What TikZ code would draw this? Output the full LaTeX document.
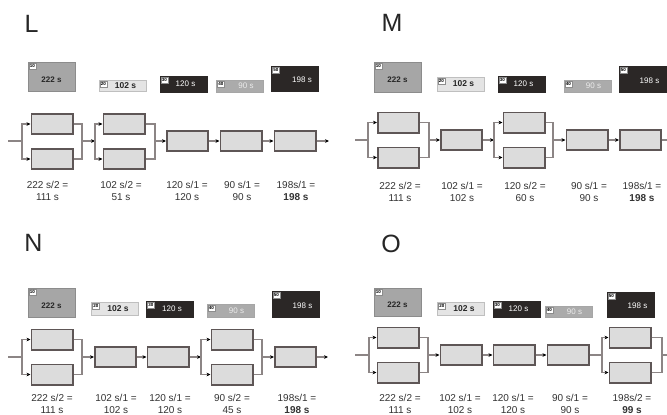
\documentclass[tikz,border=0pt]{standalone}
\usepackage{fontspec}
\setmainfont{Liberation Sans}
\usetikzlibrary{arrows.meta,positioning}
\definecolor{boxfill}{HTML}{DCDCDC}
\definecolor{boxedge}{HTML}{5E5656}
\definecolor{linecol}{HTML}{8C8585}
\definecolor{ink}{HTML}{333333}
\definecolor{midgray}{HTML}{A6A6A6}
\definecolor{pale}{HTML}{E4E4E4}
\definecolor{darkbox}{HTML}{2B2726}
\definecolor{greybox}{HTML}{ABABAB}

\begin{document}
\begin{tikzpicture}[x=1pt,y=-1pt]
  \tikzstyle{bx}=[rectangle,draw=boxedge,fill=boxfill,line width=1.6pt,minimum width=41.4,minimum height=20.4,inner sep=0pt]
  \tikzstyle{ln}=[draw=linecol,line width=1.2pt]
  \tikzstyle{ar}=[ln,-{Stealth[length=4pt,width=3.6pt,color=black]}]
  \tikzstyle{lb}=[align=center,text=ink,font=\fontsize{10}{12}\selectfont,inner sep=0pt]
  \tikzstyle{big}=[font=\fontsize{25}{25}\selectfont,text=black!85,inner sep=0pt]
  \tikzstyle{tk}=[rectangle,minimum width=47,inner sep=0pt,line width=0.6pt]
  \tikzstyle{t1}=[fill=midgray,draw=black!45]
  \tikzstyle{t2}=[fill=pale,draw=black!25]
  \tikzstyle{t3}=[fill=darkbox,draw=darkbox]
  \tikzstyle{t4}=[fill=greybox,draw=black!35]
  \tikzstyle{t5}=[fill=darkbox,draw=darkbox]
  \tikzstyle{tg}=[rectangle,fill=white,draw=black!45,line width=0.3pt,inner sep=0.6pt,minimum width=7,minimum height=6,font=\fontsize{4.5}{4.5}\selectfont\bfseries,anchor=north west]
  \tikzstyle{v1}=[font=\fontsize{8}{8}\selectfont\bfseries,text=black!85,yshift=-3pt]
  \tikzstyle{v2}=[font=\fontsize{8.5}{8.5}\selectfont\bfseries,text=black!85,xshift=3pt]
  \tikzstyle{v3}=[font=\fontsize{8}{8}\selectfont,text=white,xshift=2pt]
  \tikzstyle{v4}=[font=\fontsize{8}{8}\selectfont,text=white!85!gray,xshift=6pt]
  \tikzstyle{v5}=[font=\fontsize{8}{8}\selectfont,text=white,xshift=7pt,yshift=-1.5pt]

  \useasboundingbox (0,0) rectangle (667,415);
  \clip (0,0) rectangle (667,415);
  \fill[white] (0,0) rectangle (667,415);

  % panel letters
  \node[big] (capL) at (31.5,23.5) {L};
  \node[big] (capM) at (392,22.5) {M};
  \node[big] (capN) at (33.5,242.5) {N};
  \node[big] (capO) at (391,243.5) {O};

  % station times
  \foreach \n/\x/\y/\h/\k/\v in {
      l/51.5/76.5/29/1/222 s, l/122.5/85.5/11/2/102 s, l/183.5/84/16/3/120 s, l/240/86/12/4/90 s, l/295/78.5/25/5/198 s,
      m/397.5/77/30/1/222 s, m/460.5/84/14/2/102 s, m/521.5/84/16/3/120 s, m/587.5/86/12/4/90 s, m/642.5/79/26/5/198 s,
      n/51.5/302.5/29/1/222 s, n/115/308.5/13/2/102 s, n/170/309/16/3/120 s, n/230.5/310.5/13/4/90 s, n/295.5/304/26/5/198 s,
      o/397.5/302/28/1/222 s, o/461/308.5/13/2/102 s, o/516.5/309/16/3/120 s, o/568.5/311.5/11/4/90 s, o/630.5/304.5/25/5/198 s}
  {
    \node[tk,t\k,minimum height=\h] (\n t\k) at (\x,\y) {};
    \node[tg] (\n t\k-tag) at ([shift={(1pt,-1.2pt)}]\n t\k.north west) {\k0};
    \node[v\k] (\n t\k-val) at (\n t\k.center) {\v};
  }

  % L
  \coordinate (lin) at (8,141);
  \coordinate (lb1) at (22,141);
  \node[bx] (l1a) at (52,124) {};
  \node[bx] (l1b) at (52,159) {};
  \coordinate (lm1) at (82,141);
  \coordinate (lb2) at (95,141);
  \node[bx] (l2a) at (124,124) {};
  \node[bx] (l2b) at (124,159) {};
  \coordinate (lm2) at (155,141);
  \node[bx] (l3) at (187.5,141) {};
  \node[bx] (l4) at (241,141) {};
  \node[bx] (l5) at (295,141) {};
  \coordinate (lout) at (329,141);
  \draw[ln] (lin) -- (lb1);
  \draw[ar] (lb1) |- (l1a);
  \draw[ar] (lb1) |- (l1b);
  \draw[ln] (l1a) -| (lm1) |- (l1b);
  \draw[ar] (lm1) -- (lb2);
  \draw[ar] (lb2) |- (l2a);
  \draw[ar] (lb2) |- (l2b);
  \draw[ln] (l2a) -| (lm2) |- (l2b);
  \draw[ar] (lm2) -- (l3);
  \draw[ar] (l3) -- (l4);
  \draw[ar] (l4) -- (l5);
  \draw[ar] (l5) -- (lout);
  \node[lb] (lq1) at (47.5,191) {222 s/2 =\\111 s};
  \node[lb] (lq2) at (121,191) {102 s/2 =\\51 s};
  \node[lb] (lq3) at (187,191) {120 s/1 =\\120 s};
  \node[lb] (lq4) at (242,191) {90 s/1 =\\90 s};
  \node[lb] (lq5) at (296,191) {198s/1 =\\\textbf{198 s}};

  % M
  \coordinate (min) at (355,140);
  \coordinate (mb1) at (368,140);
  \node[bx] (m1a) at (398.5,122.5) {};
  \node[bx] (m1b) at (398.5,157.5) {};
  \coordinate (mm1) at (429,140);
  \node[bx] (m2) at (461.5,140) {};
  \coordinate (mb3) at (494,140);
  \node[bx] (m3a) at (524,122.5) {};
  \node[bx] (m3b) at (524,157.5) {};
  \coordinate (mm3) at (553,140);
  \node[bx] (m4) at (587,140) {};
  \node[bx] (m5) at (640.5,140) {};
  \coordinate (mout) at (676,140);
  \draw[ln] (min) -- (mb1);
  \draw[ar] (mb1) |- (m1a);
  \draw[ar] (mb1) |- (m1b);
  \draw[ln] (m1a) -| (mm1) |- (m1b);
  \draw[ar] (mm1) -- (m2);
  \draw[ar] (m2) -- (mb3);
  \draw[ar] (mb3) |- (m3a);
  \draw[ar] (mb3) |- (m3b);
  \draw[ln] (m3a) -| (mm3) |- (m3b);
  \draw[ar] (mm3) -- (m4);
  \draw[ar] (m4) -- (m5);
  \draw[ar] (m5) -- (mout);
  \node[lb] (mq1) at (400,192) {222 s/2 =\\111 s};
  \node[lb] (mq2) at (462,192) {102 s/1 =\\102 s};
  \node[lb] (mq3) at (525,192) {120 s/2 =\\60 s};
  \node[lb] (mq4) at (589,192) {90 s/1 =\\90 s};
  \node[lb] (mq5) at (642,192) {198s/1 =\\\textbf{198 s}};

  % N
  \coordinate (nin) at (8,357);
  \coordinate (nb1) at (22,357);
  \node[bx] (n1a) at (52,339.5) {};
  \node[bx] (n1b) at (52,374.5) {};
  \coordinate (nm1) at (82,357);
  \node[bx] (n2) at (115.5,357) {};
  \node[bx] (n3) at (168,357) {};
  \coordinate (nb4) at (201,357);
  \node[bx] (n4a) at (232,339.5) {};
  \node[bx] (n4b) at (232,374.5) {};
  \coordinate (nm4) at (262,357);
  \node[bx] (n5) at (295.5,357) {};
  \coordinate (nout) at (328,357);
  \draw[ln] (nin) -- (nb1);
  \draw[ar] (nb1) |- (n1a);
  \draw[ar] (nb1) |- (n1b);
  \draw[ln] (n1a) -| (nm1) |- (n1b);
  \draw[ar] (nm1) -- (n2);
  \draw[ar] (n2) -- (n3);
  \draw[ar] (n3) -- (nb4);
  \draw[ar] (nb4) |- (n4a);
  \draw[ar] (nb4) |- (n4b);
  \draw[ln] (n4a) -| (nm4) |- (n4b);
  \draw[ar] (nm4) -- (n5);
  \draw[ar] (n5) -- (nout);
  \node[lb] (nq1) at (52,404) {222 s/2 =\\111 s};
  \node[lb] (nq2) at (116,404) {102 s/1 =\\102 s};
  \node[lb] (nq3) at (170,404) {120 s/1 =\\120 s};
  \node[lb] (nq4) at (232,404) {90 s/2 =\\45 s};
  \node[lb] (nq5) at (297,404) {198s/1 =\\\textbf{198 s}};

  % O
  \coordinate (oin) at (355,355);
  \coordinate (ob1) at (369,355);
  \node[bx] (o1a) at (398,337.5) {};
  \node[bx] (o1b) at (398,372.5) {};
  \coordinate (om1) at (428,355);
  \node[bx] (o2) at (461,355) {};
  \node[bx] (o3) at (514,355) {};
  \node[bx] (o4) at (568,355) {};
  \coordinate (ob5) at (602,355);
  \node[bx] (o5a) at (630,337.5) {};
  \node[bx] (o5b) at (630,372.5) {};
  \coordinate (om5) at (662,355);
  \coordinate (oout) at (676,355);
  \draw[ln] (oin) -- (ob1);
  \draw[ar] (ob1) |- (o1a);
  \draw[ar] (ob1) |- (o1b);
  \draw[ln] (o1a) -| (om1) |- (o1b);
  \draw[ar] (om1) -- (o2);
  \draw[ar] (o2) -- (o3);
  \draw[ar] (o3) -- (o4);
  \draw[ln] (o4) -- (ob5);
  \draw[ar] (ob5) |- (o5a);
  \draw[ar] (ob5) |- (o5b);
  \draw[ln] (o5a) -| (om5) |- (o5b);
  \draw[ln] (om5) -- (oout);
  \node[lb] (oq1) at (400,404) {222 s/2 =\\111 s};
  \node[lb] (oq2) at (460,404) {102 s/1 =\\102 s};
  \node[lb] (oq3) at (513,404) {120 s/1 =\\120 s};
  \node[lb] (oq4) at (570,404) {90 s/1 =\\90 s};
  \node[lb] (oq5) at (632,404) {198s/2 =\\\textbf{99 s}};
\end{tikzpicture}
\end{document}
